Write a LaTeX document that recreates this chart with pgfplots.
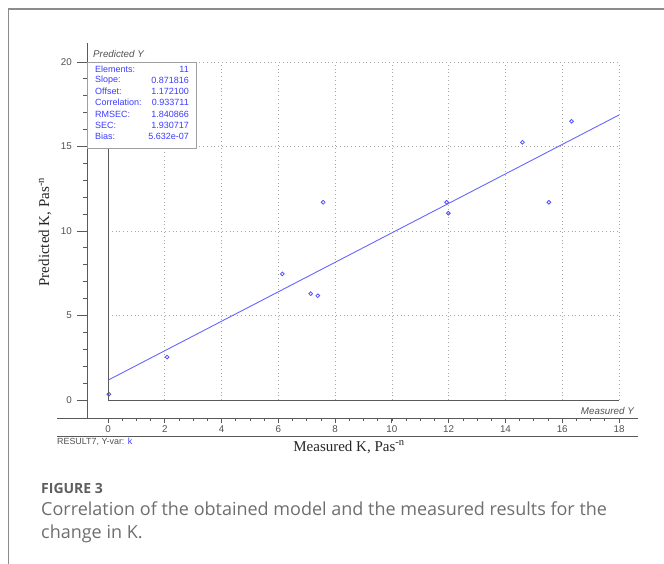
\documentclass[border=0pt]{standalone}
\usepackage{pgfplots}
\pgfplotsset{compat=1.18}
\usepackage{fontspec}
\setmainfont{Liberation Sans}
\newfontfamily\serifK{Liberation Serif}
\newfontfamily\capfont{Open Sans}
\definecolor{axgray}{HTML}{5A5A5A}
\definecolor{txtgray}{HTML}{505050}
\definecolor{boxblue}{HTML}{3C3CFF}
\definecolor{ptblue}{HTML}{5050FF}
\definecolor{lineblue}{HTML}{6666FF}
\definecolor{capgray}{HTML}{6E6E6E}
\definecolor{framegray}{HTML}{8C8C8C}
\begin{document}
\begin{tikzpicture}
\path[use as bounding box] (0pt,0pt) rectangle (664pt,-564pt);
\begin{axis}[
  at={(108pt,-400pt)}, anchor=south west,
  scale only axis, width=511pt, height=338pt,
  xmin=0, xmax=18, ymin=0, ymax=20,
  axis line style={draw=none},
  xtick={2,4,...,18}, ytick={5,10,15,20},
  xticklabels={}, yticklabels={},
  major tick length=0pt,
  grid=major,
  major grid style={gray!70, line width=0.7pt, dash pattern=on 0.8pt off 3pt},
  clip=false,
]
\addplot[lineblue, line width=0.9pt] coordinates {(0,1.1721) (18,16.8648)};
\addplot[only marks, mark=o, mark size=1.9pt, ptblue, line width=0.8pt] coordinates {
(0.03,0.34) (2.08,2.54) (6.14,7.46) (7.14,6.29) (7.39,6.17) (7.58,11.70)
(11.93,11.70) (11.99,11.05) (14.60,15.25) (15.53,11.70) (16.33,16.49)
};
\end{axis}
\begin{scope}[x=1pt,y=-1pt]
% outer frame
\draw[framegray, line width=1.6pt] (8.5,564) -- (8.5,9) -- (664,9);
% inner frame
\draw[axgray, line width=0.9pt] (108,62) -- (108,400) -- (619,400);
% y axis
\draw[axgray, line width=0.9pt] (87,43) -- (87,418);
\foreach \v in {0,...,20} {\draw[axgray, line width=0.8pt] (83,{400-\v*16.9}) -- (88,{400-\v*16.9});}
\foreach \v in {0,5,...,20} {
  \draw[axgray, line width=0.8pt] (77,{400-\v*16.9}) -- (87,{400-\v*16.9});
  \node[anchor=east, text=txtgray, font=\fontsize{9.8}{11}\selectfont, inner sep=0pt] at (72,{400-\v*16.9}) {\v};
}
% x axis
\draw[axgray, line width=0.9pt] (57,418) -- (638,418);
\draw[axgray, line width=0.9pt] (57,436) -- (638,436);
\foreach \v in {0,0.5,...,18} {\draw[axgray, line width=0.7pt] ({108+\v*28.389},418) -- ({108+\v*28.389},421);}
\foreach \v in {0,2,...,18} {
  \draw[axgray, line width=0.8pt] ({108+\v*28.389},418) -- ({108+\v*28.389},423);
  \node[anchor=center, text=txtgray, font=\fontsize{9.8}{11}\selectfont, inner sep=0pt] at ({108+\v*28.389},429.5) {\v};
}
% stats box
\draw[gray!75, fill=white, line width=0.8pt] (87,62) rectangle (196,148);
\node[anchor=west, text=txtgray, font=\fontsize{9.8}{11}\selectfont\itshape, inner sep=0pt] at (93,54) {Predicted Y};
\foreach \lab/\val [count=\i from 0] in {Elements:/11, Slope:/0.871816, Offset:/1.172100, Correlation:/0.933711, RMSEC:/1.840866, SEC:/1.930717, Bias:/5.632e-07} {
  \node[anchor=west, text=boxblue, font=\fontsize{9}{10}\selectfont, inner sep=0pt] at (95,{69+\i*11.25}) {\lab};
  \node[anchor=east, text=boxblue, font=\fontsize{9}{10}\selectfont, inner sep=0pt] at (189,{69+\i*11.25}) {\val};
}
\node[anchor=east, text=txtgray, font=\fontsize{9.8}{11}\selectfont\itshape, inner sep=0pt] at (634,411) {Measured Y};
\node[anchor=west, text=txtgray, font=\fontsize{8.9}{10}\selectfont, inner sep=0pt] at (57,442) {RESULT7, Y-var: \textcolor{boxblue}{k}};
% axis titles
\node[anchor=center, text=black!85, font=\serifK\fontsize{15}{17}\selectfont, inner sep=0pt] at (349,447) {Measured K, Pas\textsuperscript{-n}};
\node[anchor=center, rotate=90, text=black!85, font=\serifK\fontsize{15}{17}\selectfont, inner sep=0pt] at (45,232) {Predicted K, Pas\textsuperscript{-n}};
% caption
\node[anchor=base west, text=capgray!85!black, font=\capfont\bfseries\fontsize{14}{16}\selectfont, inner sep=0pt] at (41,493) {FIGURE 3};
\node[anchor=base west, text=capgray, font=\capfont\fontsize{18}{20}\selectfont, inner sep=0pt] at (41,515.5) {Correlation of the obtained model and the measured results for the};
\node[anchor=base west, text=capgray, font=\capfont\fontsize{18}{20}\selectfont, inner sep=0pt] at (41,538.5) {change in K.};
\end{scope}
\end{tikzpicture}
\end{document}
